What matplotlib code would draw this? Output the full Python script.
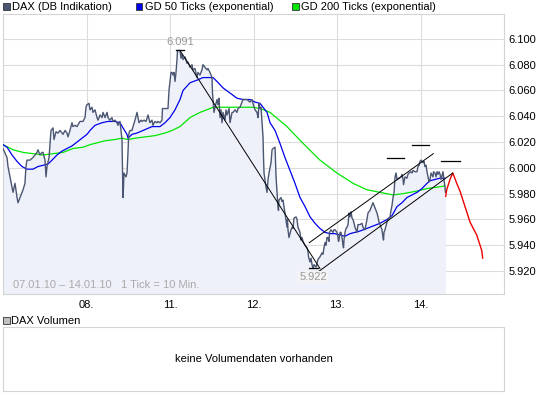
"""DAX intraday chart 07.01.10 - 14.01.10 with moving averages and trend lines."""

import matplotlib
matplotlib.use('Agg')
import matplotlib.pyplot as plt
from matplotlib.patches import Rectangle

plt.rcParams['font.family'] = ['Liberation Sans', 'DejaVu Sans']

# x = position in trading days (0 = 08.01.), y = index points
day_labels = ['08.', '11.', '12.', '13.', '14.']
price_ticks = [5.920, 5.940, 5.960, 5.980, 6.000, 6.020, 6.040, 6.060, 6.080, 6.100]

dax_x = [-1.000, -0.952, -0.940, -0.916, -0.880, -0.856, -0.832, -0.820, -0.796, -0.772,
         -0.760, -0.737, -0.725, -0.713, -0.677, -0.641, -0.593, -0.581, -0.557, -0.533,
         -0.521, -0.497, -0.485, -0.473, -0.449, -0.437, -0.425, -0.401, -0.389, -0.365,
         -0.341, -0.317, -0.293, -0.281, -0.257, -0.234, -0.222, -0.198, -0.174, -0.162,
         -0.138, -0.114, -0.078, -0.042, -0.018, -0.006, 0.006, 0.030, 0.042, 0.066,
         0.078, 0.102, 0.126, 0.138, 0.162, 0.186, 0.198, 0.222, 0.246, 0.257,
         0.281, 0.305, 0.317, 0.341, 0.365, 0.377, 0.401, 0.413, 0.425, 0.431,
         0.437, 0.443, 0.449, 0.473, 0.485, 0.497, 0.503, 0.509, 0.521, 0.545,
         0.557, 0.581, 0.605, 0.617, 0.629, 0.653, 0.665, 0.689, 0.713, 0.737,
         0.760, 0.784, 0.796, 0.820, 0.844, 0.856, 0.880, 0.904, 0.910, 0.976,
         0.988, 1.012, 1.024, 1.036, 1.048, 1.060, 1.072, 1.084, 1.090, 1.120,
         1.132, 1.144, 1.156, 1.180, 1.204, 1.216, 1.240, 1.263, 1.275, 1.299,
         1.323, 1.335, 1.359, 1.383, 1.395, 1.419, 1.443, 1.455, 1.479, 1.503,
         1.509, 1.515, 1.527, 1.539, 1.563, 1.575, 1.587, 1.599, 1.611, 1.623,
         1.635, 1.659, 1.671, 1.683, 1.707, 1.719, 1.743, 1.755, 1.779, 1.802,
         1.814, 1.838, 1.862, 1.874, 1.922, 1.958, 1.982, 1.994, 2.018, 2.042,
         2.054, 2.066, 2.078, 2.090, 2.102, 2.114, 2.120, 2.126, 2.150, 2.162,
         2.174, 2.186, 2.210, 2.222, 2.234, 2.258, 2.270, 2.282, 2.293, 2.299,
         2.305, 2.329, 2.341, 2.353, 2.365, 2.377, 2.401, 2.407, 2.413, 2.425,
         2.449, 2.461, 2.473, 2.485, 2.509, 2.521, 2.533, 2.545, 2.557, 2.569,
         2.581, 2.593, 2.617, 2.641, 2.653, 2.659, 2.677, 2.689, 2.701, 2.713,
         2.725, 2.749, 2.760, 2.772, 2.796, 2.820, 2.832, 2.844, 2.856, 2.868,
         2.880, 2.892, 2.904, 2.910, 2.928, 2.952, 2.964, 2.976, 3.000, 3.012,
         3.018, 3.024, 3.036, 3.048, 3.060, 3.072, 3.078, 3.084, 3.096, 3.108,
         3.120, 3.132, 3.144, 3.156, 3.168, 3.180, 3.192, 3.216, 3.240, 3.251,
         3.275, 3.299, 3.311, 3.335, 3.359, 3.371, 3.395, 3.419, 3.431, 3.455,
         3.479, 3.491, 3.503, 3.515, 3.539, 3.551, 3.557, 3.563, 3.575, 3.599,
         3.611, 3.635, 3.647, 3.659, 3.671, 3.683, 3.695, 3.707, 3.719, 3.743,
         3.767, 3.779, 3.791, 3.797, 3.814, 3.838, 3.850, 3.862, 3.886, 3.898,
         3.910, 3.934, 3.958, 3.970, 3.982, 3.994, 4.006, 4.018, 4.030, 4.042,
         4.054, 4.066, 4.078, 4.090, 4.102, 4.114, 4.126, 4.150, 4.156, 4.174,
         4.186, 4.198, 4.210, 4.222, 4.234, 4.246, 4.258, 4.269, 4.281, 4.293,
         4.299]
dax_y = [6.015, 6.008, 6.001, 5.993, 5.981, 5.988, 5.977, 5.973, 5.977, 5.981,
         5.983, 5.988, 6.001, 6.006, 6.006, 6.008, 6.012, 6.014, 6.010, 6.012,
         6.012, 6.006, 5.993, 6.001, 6.008, 6.019, 6.029, 6.031, 6.022, 6.028,
         6.027, 6.029, 6.027, 6.026, 6.029, 6.027, 6.024, 6.029, 6.035, 6.032,
         6.033, 6.032, 6.036, 6.036, 6.039, 6.047, 6.049, 6.050, 6.045, 6.047,
         6.043, 6.045, 6.039, 6.037, 6.041, 6.039, 6.043, 6.039, 6.043, 6.039,
         6.037, 6.039, 6.036, 6.037, 6.035, 6.033, 6.036, 6.029, 6.022, 6.001,
         5.977, 5.985, 5.996, 5.993, 5.996, 6.012, 6.022, 6.027, 6.029, 6.029,
         6.032, 6.037, 6.043, 6.039, 6.035, 6.037, 6.036, 6.037, 6.036, 6.041,
         6.035, 6.037, 6.033, 6.036, 6.035, 6.036, 6.035, 6.037, 6.046, 6.046,
         6.060, 6.074, 6.074, 6.072, 6.074, 6.067, 6.074, 6.084, 6.091, 6.091,
         6.085, 6.088, 6.084, 6.086, 6.081, 6.082, 6.078, 6.080, 6.076, 6.077,
         6.070, 6.074, 6.072, 6.076, 6.080, 6.078, 6.076, 6.077, 6.074, 6.070,
         6.058, 6.053, 6.043, 6.047, 6.053, 6.049, 6.054, 6.039, 6.045, 6.035,
         6.043, 6.037, 6.045, 6.041, 6.046, 6.035, 6.043, 6.043, 6.045, 6.043,
         6.046, 6.047, 6.051, 6.053, 6.053, 6.051, 6.053, 6.050, 6.045, 6.043,
         6.039, 6.050, 6.046, 6.047, 6.035, 6.024, 6.008, 5.996, 5.985, 5.981,
         5.991, 5.996, 6.004, 6.014, 6.015, 6.016, 5.993, 5.981, 5.970, 5.967,
         5.975, 5.977, 5.974, 5.975, 5.970, 5.965, 5.954, 5.960, 5.952, 5.946,
         5.952, 5.954, 5.953, 5.961, 5.962, 5.960, 5.954, 5.952, 5.950, 5.944,
         5.946, 5.943, 5.940, 5.938, 5.935, 5.931, 5.927, 5.930, 5.925, 5.922,
         5.925, 5.923, 5.926, 5.929, 5.931, 5.934, 5.933, 5.938, 5.942, 5.940,
         5.946, 5.946, 5.943, 5.950, 5.952, 5.950, 5.952, 5.952, 5.950, 5.946,
         5.943, 5.944, 5.950, 5.950, 5.946, 5.940, 5.938, 5.944, 5.950, 5.953,
         5.954, 5.956, 5.965, 5.962, 5.966, 5.961, 5.960, 5.954, 5.950, 5.956,
         5.956, 5.957, 5.954, 5.952, 5.960, 5.965, 5.967, 5.971, 5.973, 5.969,
         5.965, 5.962, 5.958, 5.956, 5.952, 5.946, 5.944, 5.950, 5.952, 5.958,
         5.960, 5.962, 5.967, 5.971, 5.977, 5.981, 5.993, 5.996, 5.991, 5.992,
         5.993, 5.995, 5.991, 5.987, 5.993, 5.992, 5.995, 5.996, 5.997, 5.996,
         5.998, 5.997, 5.997, 6.001, 6.002, 6.005, 6.006, 6.005, 6.004, 6.005,
         6.001, 6.002, 5.997, 5.993, 5.989, 5.991, 5.996, 5.993, 5.997, 5.996,
         5.993, 5.997, 5.995, 5.997, 5.995, 5.991, 5.994, 5.997, 5.991, 5.985,
         5.981]

gd50_x = [-1.000, -0.952, -0.892, -0.832, -0.772, -0.713, -0.641, -0.581, -0.521, -0.461,
          -0.413, -0.353, -0.293, -0.234, -0.174, -0.114, -0.054, 0.006, 0.042, 0.102,
          0.186, 0.257, 0.341, 0.401, 0.437, 0.485, 0.497, 0.545, 0.605, 0.677,
          0.784, 0.880, 0.940, 1.000, 1.060, 1.120, 1.156, 1.240, 1.323, 1.395,
          1.479, 1.515, 1.563, 1.635, 1.719, 1.802, 1.874, 1.958, 2.018, 2.078,
          2.114, 2.162, 2.198, 2.258, 2.317, 2.377, 2.437, 2.497, 2.557, 2.617,
          2.677, 2.737, 2.796, 2.856, 2.916, 2.976, 3.036, 3.096, 3.156, 3.216,
          3.275, 3.395, 3.515, 3.599, 3.659, 3.719, 3.779, 3.838, 3.898, 3.958,
          4.018, 4.078, 4.114, 4.174, 4.234, 4.293]
gd50_y = [6.018, 6.016, 6.010, 6.005, 6.001, 5.999, 5.999, 6.001, 6.002, 6.003,
          6.006, 6.010, 6.013, 6.015, 6.017, 6.020, 6.023, 6.026, 6.029, 6.033,
          6.035, 6.036, 6.036, 6.035, 6.031, 6.026, 6.023, 6.026, 6.027, 6.029,
          6.032, 6.032, 6.035, 6.039, 6.045, 6.053, 6.060, 6.066, 6.068, 6.070,
          6.070, 6.070, 6.067, 6.062, 6.058, 6.054, 6.053, 6.053, 6.051, 6.050,
          6.047, 6.043, 6.035, 6.029, 6.019, 6.008, 5.998, 5.988, 5.977, 5.970,
          5.962, 5.957, 5.953, 5.950, 5.949, 5.949, 5.948, 5.947, 5.949, 5.950,
          5.951, 5.954, 5.957, 5.960, 5.963, 5.970, 5.973, 5.977, 5.979, 5.981,
          5.984, 5.988, 5.990, 5.991, 5.992, 5.992]

gd200_x = [-1.000, -0.880, -0.760, -0.641, -0.521, -0.401, -0.281, -0.162, -0.042, 0.042,
           0.102, 0.222, 0.341, 0.425, 0.497, 0.581, 0.701, 0.820, 0.940, 1.024,
           1.120, 1.240, 1.359, 1.479, 1.515, 1.635, 1.755, 1.874, 1.994, 2.078,
           2.162, 2.198, 2.401, 2.593, 2.796, 3.000, 3.192, 3.359, 3.515, 3.671,
           3.791, 3.958, 4.078, 4.198, 4.293]
gd200_y = [6.018, 6.014, 6.012, 6.011, 6.010, 6.011, 6.012, 6.015, 6.016, 6.018,
           6.019, 6.021, 6.022, 6.023, 6.022, 6.023, 6.024, 6.025, 6.027, 6.029,
           6.032, 6.039, 6.043, 6.046, 6.047, 6.047, 6.047, 6.047, 6.047, 6.046,
           6.044, 6.043, 6.032, 6.019, 6.006, 5.996, 5.988, 5.983, 5.981, 5.979,
           5.980, 5.982, 5.984, 5.985, 5.986]

# projected path (red)
proj_x = [4.302, 4.314, 4.353, 4.386, 4.405, 4.434, 4.473, 4.513, 4.553, 4.593,
          4.632, 4.673, 4.713, 4.733, 4.745]
proj_y = [5.978, 5.983, 5.991, 5.996, 5.993, 5.988, 5.982, 5.974, 5.966, 5.958,
          5.953, 5.948, 5.940, 5.936, 5.930]

# drawn trend lines: (x0, y0, x1, y1)
trend_lines = [(1.120, 6.091, 2.796, 5.922),
               (2.668, 5.942, 4.153, 6.011),
               (2.788, 5.920, 4.386, 5.996)]
# horizontal marks: (x0, x1, level)
level_marks = [(3.599, 3.803, 6.008), (3.898, 4.102, 6.018), (4.246, 4.473, 6.005),
               (1.072, 1.168, 6.091), (2.668, 2.772, 5.922)]
high_label = (1.120, 6.091, '6.091')
low_label = (2.713, 5.922, '5.922')

W, H = 545, 395
fig = plt.figure(figsize=(W / 100, H / 100), dpi=100)
fig.patch.set_facecolor('white')

ax = fig.add_axes([3 / W, (H - 294) / H, 501 / W, 280 / H])
ax.set_xlim(-1, 5)
ax.set_ylim(5.9022, 6.1193)

ax.fill_between(dax_x, dax_y, 5.9022, color='#eef1f9', lw=0, zorder=1)
ax.set_xticks(range(len(day_labels)))
ax.set_xticklabels(day_labels)
ax.set_yticks(price_ticks)
ax.set_yticklabels([f'{v:.3f}' for v in price_ticks])
ax.grid(True, color='#dcdcdc', lw=0.8, zorder=0)
ax.set_axisbelow(True)
ax.yaxis.tick_right()
ax.tick_params(axis='both', length=0, labelsize=8, colors='#000000')
ax.tick_params(axis='y', pad=3)
ax.tick_params(axis='x', pad=4)
for sp in ax.spines.values():
    sp.set_color('#d4d4d4')
    sp.set_linewidth(0.8)

ax.plot(gd200_x, gd200_y, color='#00e600', lw=0.9, zorder=3)
ax.plot(gd50_x, gd50_y, color='#0000ee', lw=0.9, zorder=3)
ax.plot(dax_x, dax_y, color='#4b5672', lw=1.0, zorder=4)
ax.plot(proj_x, proj_y, color='#ee0000', lw=1.0, zorder=4)

for x0, y0, x1, y1 in trend_lines:
    ax.plot([x0, x1], [y0, y1], color='black', lw=0.7, zorder=5)
for x0, x1, lvl in level_marks:
    ax.plot([x0, x1], [lvl, lvl], color='black', lw=0.9, zorder=5)

ax.text(high_label[0], high_label[1] + 0.0025, high_label[2], ha='center', va='bottom',
        fontsize=8, color='#999999', zorder=6)
ax.text(low_label[0], low_label[1] - 0.0025, low_label[2], ha='center', va='top',
        fontsize=8, color='#999999', zorder=6,
        bbox=dict(boxstyle='square,pad=0.1', fc='#f4f4f4', ec='none'))
ax.text(10 / 501, (294 - 285) / 280, '07.01.10 \u2013 14.01.10   1 Tick = 10 Min.',
        transform=ax.transAxes, ha='left', va='center', fontsize=8, color='#aaaaaa', zorder=6)

# volume panel
vax = fig.add_axes([3 / W, (H - 391) / H, 501 / W, 64 / H])
vax.set_xticks([])
vax.set_yticks([])
for sp in vax.spines.values():
    sp.set_color('#d4d4d4')
    sp.set_linewidth(0.8)
vax.text(0.5, 0.5, 'keine Volumendaten vorhanden', transform=vax.transAxes,
         ha='center', va='center', fontsize=8, color='black')

# legends (header)
legend_items = [(3, 'DAX (DB Indikation)', '#4b5672'),
                (136, 'GD 50 Ticks (exponential)', '#0000ee'),
                (292, 'GD 200 Ticks (exponential)', '#00e600')]
for lx, label, col in legend_items:
    fig.add_artist(Rectangle((lx / W, (H - 9.5) / H), 6.5 / W, 6.5 / H,
                             transform=fig.transFigure, fc=col, ec='#333333', lw=0.6))
    fig.text((lx + 9) / W, (H - 6.5) / H, label, ha='left', va='center', fontsize=8)

fig.add_artist(Rectangle((3 / W, (H - 323.5) / H), 6.5 / W, 6.5 / H, transform=fig.transFigure,
                         fc='#c0c0c0', ec='#333333', lw=0.6))
fig.text(11 / W, (H - 320.5) / H, 'DAX Volumen', ha='left', va='center', fontsize=8)

fig.savefig('out.png', dpi=100, facecolor='white')
